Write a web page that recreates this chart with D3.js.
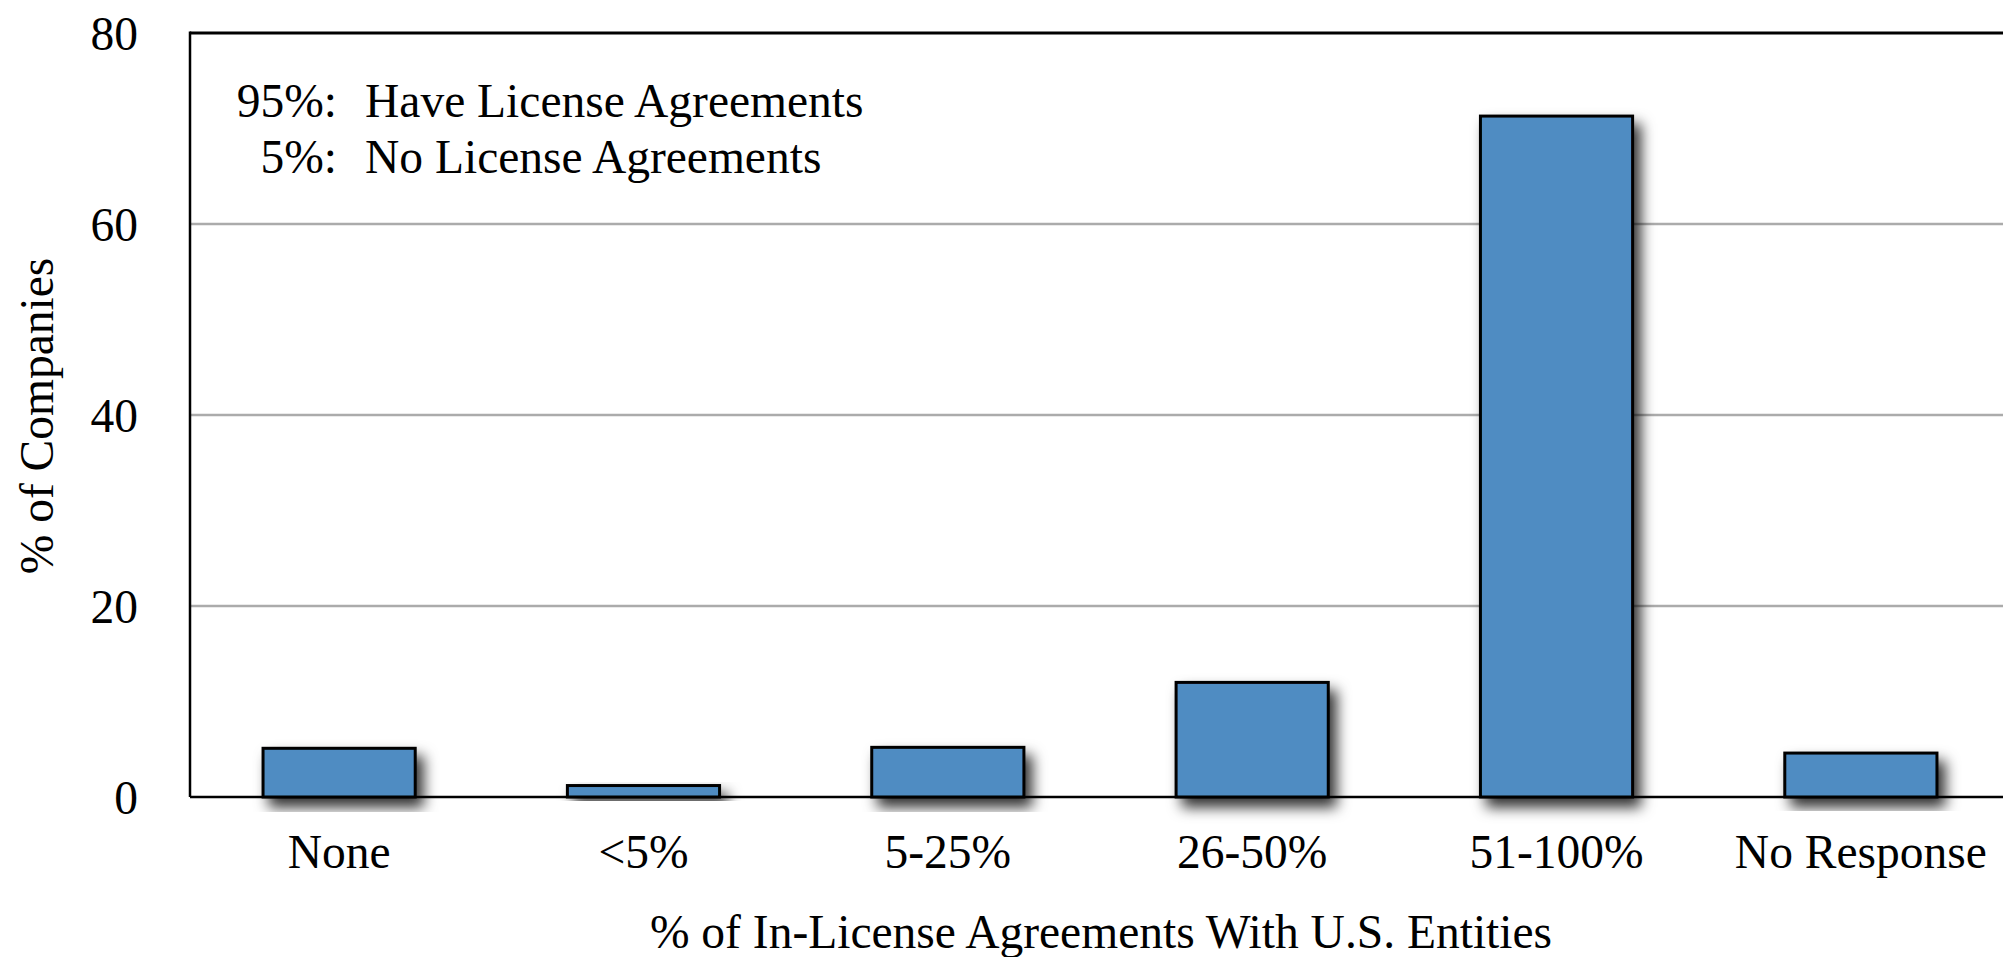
<!DOCTYPE html>
<meta charset="utf-8">
<style type="text/css">
    body{
      margin: 0;
      background: #fff;
    }
    text {
      font-family: "Liberation Serif", "Times New Roman", serif;
      fill: #000;
    }
    svg{
      display: block;
    }
</style>
<body>
<script src="https://cdn.jsdelivr.net/npm/d3@7"></script>
<script>
// categories along the x axis
var categories = ["None", "<5%", "5-25%", "26-50%", "51-100%", "No Response"];

// % of companies in each category
var values = [5.1, 1.2, 5.2, 12, 71.3, 4.6];

// y axis ticks
var yTicks = [0, 20, 40, 60, 80];

// note in the top left corner
var notePct    = ["95%:", "5%:"];
var noteLabels = ["Have License Agreements", "No License Agreements"];

var width  = 2003,
    height = 957;

var margin = {top: 33, left: 190, bottom: 160, right: -7};

var fontSize = 47.5;

var svg = d3.select("body")
  .append("svg")
  .attr("width", width)
  .attr("height", height);

// drop shadow for the bars
var defs = svg.append("defs");
var filter = defs.append("filter")
  .attr("id", "shadow")
  .attr("x", "-30%").attr("y", "-30%")
  .attr("width", "160%").attr("height", "160%");
filter.append("feDropShadow")
  .attr("dx", 7)
  .attr("dy", 9)
  .attr("stdDeviation", 7)
  .attr("flood-color", "#000")
  .attr("flood-opacity", 0.8);

var x = d3.scaleBand()
  .domain(categories)
  .range([margin.left, width - margin.right])
  .paddingInner(0.5)
  .paddingOuter(0.24);

var y = d3.scaleLinear()
  .domain([0, 80])
  .range([height - margin.bottom, margin.top]);

//gridlines
svg.append("g")
  .selectAll("line")
  .data(yTicks.filter(function(d){ return d > 0 && d < 80; }))
  .enter().append("line")
  .attr("x1", margin.left)
  .attr("x2", width - margin.right)
  .attr("y1", function(d){ return y(d); })
  .attr("y2", function(d){ return y(d); })
  .attr("stroke", "#ababab")
  .attr("stroke-width", 2.5);

//frame: top and left
svg.append("line")
  .attr("x1", margin.left).attr("x2", width - margin.right)
  .attr("y1", y(80)).attr("y2", y(80))
  .attr("stroke", "#000").attr("stroke-width", 3);

svg.append("line")
  .attr("x1", margin.left).attr("x2", margin.left)
  .attr("y1", y(80) - 1.5).attr("y2", y(0))
  .attr("stroke", "#000").attr("stroke-width", 2.5);

//baseline
svg.append("line")
  .attr("x1", margin.left).attr("x2", width - margin.right)
  .attr("y1", y(0)).attr("y2", y(0))
  .attr("stroke", "#000").attr("stroke-width", 2.5);

//bars
svg.append("g")
  .selectAll("rect")
  .data(values)
  .enter().append("rect")
  .attr("x", function(d, i){ return x(categories[i]); })
  .attr("y", function(d){ return y(d); })
  .attr("width", x.bandwidth())
  .attr("height", function(d){ return y(0) - y(d); })
  .attr("fill", "#4f8cc2")
  .attr("stroke", "#000")
  .attr("stroke-width", 3)
  .attr("filter", "url(#shadow)");

//y tick labels
svg.append("g")
  .selectAll("text")
  .data(yTicks)
  .enter().append("text")
  .attr("x", margin.left - 52)
  .attr("y", function(d){ return y(d); })
  .attr("dy", "0.36em")
  .attr("text-anchor", "end")
  .style("font-size", fontSize + "px")
  .text(function(d){ return d; });

//x tick labels
svg.append("g")
  .selectAll("text")
  .data(categories)
  .enter().append("text")
  .attr("x", function(d){ return x(d) + x.bandwidth() / 2; })
  .attr("y", y(0) + 71)
  .attr("text-anchor", "middle")
  .style("font-size", fontSize + "px")
  .text(function(d){ return d; });

//axis titles
svg.append("text")
  .attr("x", 1101)
  .attr("y", 948)
  .attr("text-anchor", "middle")
  .style("font-size", fontSize + "px")
  .text("% of In-License Agreements With U.S. Entities");

svg.append("text")
  .attr("transform", "translate(53," + 416 + ") rotate(-90)")
  .attr("text-anchor", "middle")
  .style("font-size", fontSize + "px")
  .text("% of Companies");

//note
var note = svg.append("g");
note.selectAll("text.pct")
  .data(notePct)
  .enter().append("text")
  .attr("class", "pct")
  .attr("x", 337)
  .attr("y", function(d, i){ return 117 + i * 56; })
  .attr("text-anchor", "end")
  .style("font-size", fontSize + "px")
  .text(function(d){ return d; });

note.selectAll("text.lbl")
  .data(noteLabels)
  .enter().append("text")
  .attr("class", "lbl")
  .attr("x", 365)
  .attr("y", function(d, i){ return 117 + i * 56; })
  .style("font-size", fontSize + "px")
  .text(function(d){ return d; });
</script>
